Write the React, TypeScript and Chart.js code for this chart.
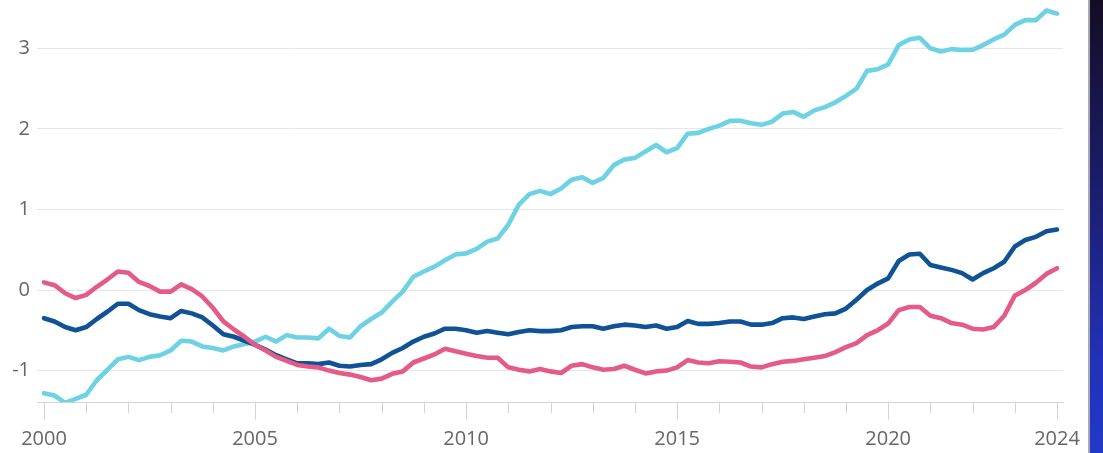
import React, { useEffect, useRef } from "react";
import { Chart, registerables } from "chart.js";

Chart.register(...registerables);

// Quarterly observations, 2000 Q1 .. 2024 Q1
const startYear = 2000;
const quarters: number[] = Array.from({ length: 97 }, (_, i) => startYear + i / 4);

const cyanSeries: number[] = [
  -1.28, -1.31, -1.4, -1.35, -1.3, -1.12, -0.99, -0.86, -0.83, -0.87, -0.83, -0.81, -0.75, -0.63, -0.64, -0.7,
  -0.72, -0.75, -0.7, -0.67, -0.64, -0.58, -0.64, -0.56, -0.59, -0.59, -0.6, -0.48, -0.57, -0.59, -0.45, -0.36,
  -0.28, -0.145, -0.02, 0.165, 0.23, 0.29, 0.37, 0.44, 0.455, 0.51, 0.6, 0.64, 0.81, 1.06, 1.19, 1.23,
  1.19, 1.26, 1.37, 1.4, 1.33, 1.39, 1.55, 1.62, 1.64, 1.72, 1.8, 1.71, 1.76, 1.94, 1.95, 2.0,
  2.04, 2.1, 2.1, 2.07, 2.05, 2.09, 2.19, 2.21, 2.15, 2.23, 2.27, 2.33, 2.41, 2.5, 2.72, 2.74,
  2.8, 3.04, 3.11, 3.13, 3.0, 2.96, 2.99, 2.98, 2.98, 3.04, 3.11, 3.17, 3.29, 3.35, 3.35, 3.47, 3.43,
];

const navySeries: number[] = [
  -0.35, -0.39, -0.46, -0.5, -0.46, -0.36, -0.27, -0.17, -0.17, -0.25, -0.3, -0.33, -0.35, -0.26, -0.29, -0.34,
  -0.44, -0.55, -0.58, -0.63, -0.68, -0.74, -0.81, -0.86, -0.91, -0.91, -0.92, -0.9, -0.94, -0.95, -0.93, -0.92,
  -0.86, -0.78, -0.72, -0.64, -0.58, -0.54, -0.48, -0.48, -0.5, -0.53, -0.51, -0.53, -0.55, -0.52, -0.5, -0.51,
  -0.51, -0.5, -0.46, -0.45, -0.45, -0.48, -0.45, -0.43, -0.44, -0.46, -0.44, -0.48, -0.46, -0.385, -0.42, -0.42,
  -0.41, -0.39, -0.39, -0.43, -0.43, -0.41, -0.35, -0.34, -0.36, -0.33, -0.3, -0.29, -0.23, -0.12, 0.0, 0.08,
  0.145, 0.36, 0.44, 0.45, 0.31, 0.28, 0.25, 0.21, 0.13, 0.21, 0.27, 0.35, 0.54, 0.62, 0.66, 0.73, 0.75,
];

const pinkSeries: number[] = [
  0.095, 0.06, -0.04, -0.1, -0.06, 0.04, 0.13, 0.23, 0.215, 0.1, 0.05, -0.02, -0.02, 0.07, 0.01, -0.08,
  -0.22, -0.39, -0.49, -0.58, -0.68, -0.75, -0.83, -0.88, -0.93, -0.95, -0.96, -1.0, -1.03, -1.05, -1.08, -1.12,
  -1.1, -1.04, -1.01, -0.9, -0.85, -0.8, -0.73, -0.76, -0.79, -0.82, -0.84, -0.84, -0.96, -0.99, -1.01, -0.98,
  -1.01, -1.03, -0.94, -0.92, -0.96, -0.99, -0.98, -0.94, -0.99, -1.035, -1.01, -1.0, -0.96, -0.87, -0.9, -0.91,
  -0.885, -0.89, -0.9, -0.95, -0.96, -0.92, -0.89, -0.88, -0.86, -0.84, -0.82, -0.77, -0.71, -0.66, -0.56, -0.5,
  -0.415, -0.25, -0.21, -0.21, -0.32, -0.35, -0.41, -0.43, -0.48, -0.49, -0.46, -0.32, -0.07, 0.0, 0.09, 0.2, 0.27,
];

const yTickValues: number[] = [-1, 0, 1, 2, 3];
const xTickYears: number[] = Array.from({ length: 25 }, (_, i) => startYear + i);
const xLabelYears: number[] = [2000, 2005, 2010, 2015, 2020, 2024];

const COLORS = {
  cyan: "#6dd3e4",
  navy: "#0f5295",
  pink: "#e45b87",
  grid: "#e6e6e6",
  axis: "#d4d4d4",
  text: "#666666",
};

const FONT = "'Open Sans', 'Noto Sans', sans-serif";

const yearTicksPlugin = {
  id: "yearTicks",
  afterDraw(chart: any) {
    const x = chart.scales.x;
    const bottom = chart.chartArea.bottom;
    const ctx = chart.ctx;
    ctx.save();
    ctx.strokeStyle = COLORS.axis;
    ctx.lineWidth = 1;
    xTickYears.forEach((yr) => {
      const px = Math.round(x.getPixelForValue(yr)) + 0.5;
      const len = yr % 5 === 0 || yr === 2024 ? 18 : 11;
      ctx.beginPath();
      ctx.moveTo(px, bottom);
      ctx.lineTo(px, bottom + len);
      ctx.stroke();
    });
    ctx.restore();
  },
};

function toPoints(values: number[]) {
  return values.map((v, i) => ({ x: quarters[i], y: v }));
}

export default function App() {
  const canvasRef = useRef<HTMLCanvasElement | null>(null);

  useEffect(() => {
    if (!canvasRef.current) return;
    const chart = new Chart(canvasRef.current, {
      type: "line",
      data: {
        datasets: [
          { data: toPoints(pinkSeries), borderColor: COLORS.pink },
          { data: toPoints(navySeries), borderColor: COLORS.navy },
          { data: toPoints(cyanSeries), borderColor: COLORS.cyan },
        ].map((d) => ({
          ...d,
          borderWidth: 4.6,
          pointRadius: 0,
          tension: 0,
          fill: false,
          borderJoinStyle: "round" as const,
          borderCapStyle: "round" as const,
        })),
      },
      options: {
        animation: false,
        responsive: false,
        devicePixelRatio: 1,
        layout: { padding: { top: 4, right: 40, left: 0, bottom: 0 } },
        plugins: {
          legend: { display: false },
          tooltip: { enabled: false },
        },
        scales: {
          x: {
            type: "linear",
            min: 1999.834,
            max: 2024.142,
            afterBuildTicks: (scale: any) => {
              scale.ticks = xTickYears.map((v) => ({ value: v }));
            },
            afterFit: (scale: any) => {
              scale.height = 51;
              scale.paddingLeft = 0;
              scale.paddingRight = 0;
            },
            grid: { display: false, drawTicks: false },
            border: { display: true, color: COLORS.axis, width: 1 },
            ticks: {
              autoSkip: false,
              maxRotation: 0,
              padding: 25,
              color: COLORS.text,
              font: { family: FONT, size: 20 },
              callback: (v: any) => (xLabelYears.includes(Number(v)) ? String(v) : ""),
            },
          },
          y: {
            type: "linear",
            min: -1.39,
            max: 3.55,
            afterBuildTicks: (scale: any) => {
              scale.ticks = yTickValues.map((v) => ({ value: v }));
            },
            afterFit: (scale: any) => {
              scale.width = 37;
              scale.paddingTop = 0;
              scale.paddingBottom = 0;
            },
            grid: { color: COLORS.grid, lineWidth: 1, drawTicks: false },
            border: { display: false },
            ticks: {
              padding: 7,
              color: COLORS.text,
              font: { family: FONT, size: 20 },
              callback: (v: any) => String(v),
            },
          },
        },
      },
      plugins: [yearTicksPlugin],
    });
    return () => chart.destroy();
  }, []);

  return (
    <div
      style={{
        position: "fixed",
        left: 0,
        top: 0,
        width: 1103,
        height: 453,
        background: "#ffffff",
        overflow: "hidden",
      }}
    >
      <canvas ref={canvasRef} width={1103} height={453} style={{ display: "block" }} />
      <div
        style={{
          position: "absolute",
          left: 1088,
          top: 0,
          width: 2,
          height: 453,
          background: "#a8a8b0",
        }}
      />
      <div
        style={{
          position: "absolute",
          left: 1090,
          top: 0,
          width: 13,
          height: 453,
          background: "linear-gradient(to bottom, #140d24 0%, #1b1c6a 40%, #2132b8 80%, #2238c8 100%)",
        }}
      />
    </div>
  );
}
